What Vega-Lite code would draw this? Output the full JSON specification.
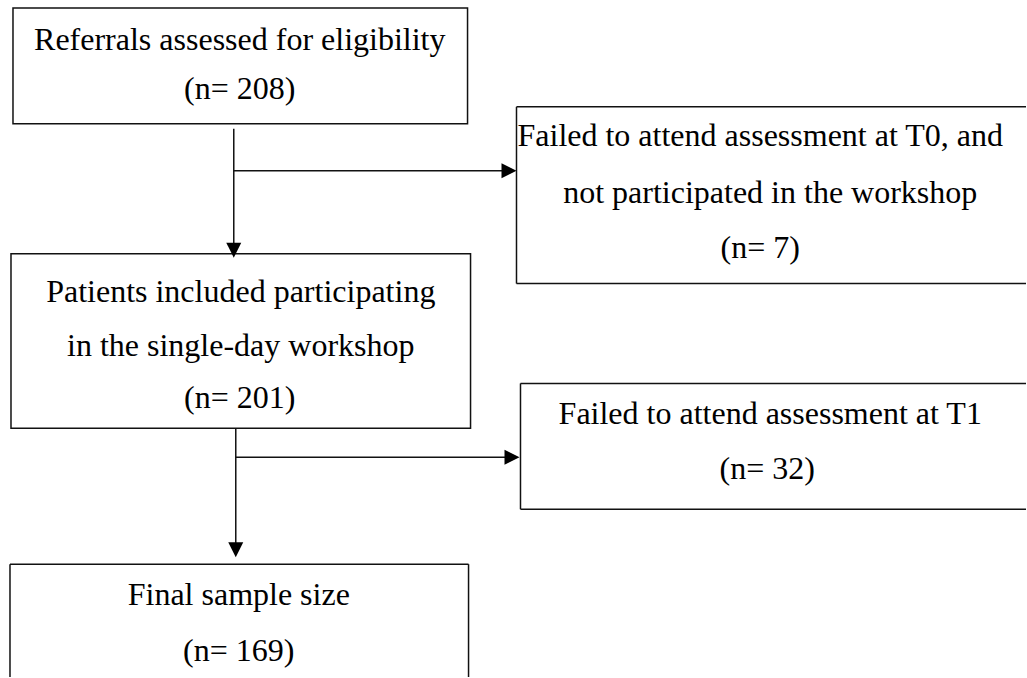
{
  "$schema": "https://vega.github.io/schema/vega-lite/v6.json",
  "width": 1027,
  "height": 678,
  "autosize": {"type": "fit", "contains": "padding"},
  "padding": 0,
  "background": "white",
  "config": {"view": {"stroke": null}},
  "datasets": {
    "boxes": [
      {"box": "Referrals", "x": 13, "x2": 468, "y": 8, "y2": 124},
      {"box": "Patients", "x": 11, "x2": 471, "y": 254, "y2": 429}
    ],
    "edges": [
      {"box": "Failed T0", "side": "top", "x": 517, "x2": 1027, "y": 107, "y2": 107},
      {"box": "Failed T0", "side": "left", "x": 517, "x2": 517, "y": 107, "y2": 284},
      {"box": "Failed T0", "side": "bottom", "x": 517, "x2": 1027, "y": 284, "y2": 284},
      {"box": "Failed T1", "side": "top", "x": 521, "x2": 1027, "y": 384, "y2": 384},
      {"box": "Failed T1", "side": "left", "x": 521, "x2": 521, "y": 384, "y2": 510},
      {"box": "Failed T1", "side": "bottom", "x": 521, "x2": 1027, "y": 510, "y2": 510},
      {"box": "Final", "side": "top", "x": 10, "x2": 469, "y": 565, "y2": 565},
      {"box": "Final", "side": "left", "x": 10, "x2": 10, "y": 565, "y2": 678},
      {"box": "Final", "side": "right", "x": 469, "x2": 469, "y": 565, "y2": 678}
    ],
    "lines": [
      {"x": 234, "x2": 234, "y": 129, "y2": 250},
      {"x": 234, "x2": 510, "y": 171, "y2": 171},
      {"x": 236, "x2": 236, "y": 429, "y2": 550},
      {"x": 236, "x2": 513, "y": 458, "y2": 458}
    ],
    "headsDown": [
      {"x": 234, "y": 250.5},
      {"x": 236, "y": 550.5}
    ],
    "headsRight": [
      {"x": 509.5, "y": 171},
      {"x": 512.5, "y": 458}
    ],
    "labels": [
      {"text": "Referrals assessed for eligibility", "x": 240, "y": 50},
      {"text": "(n= 208)", "x": 240, "y": 99},
      {"text": "Failed to attend assessment at T0, and", "x": 761, "y": 146},
      {"text": "not participated in the workshop", "x": 771, "y": 203},
      {"text": "(n= 7)", "x": 761, "y": 258},
      {"text": "Patients included participating", "x": 241, "y": 302},
      {"text": "in the single-day workshop", "x": 241, "y": 357},
      {"text": "(n= 201)", "x": 240, "y": 409},
      {"text": "Failed to attend assessment at T1", "x": 771, "y": 425},
      {"text": "(n= 32)", "x": 768, "y": 480},
      {"text": "Final sample size", "x": 239, "y": 606},
      {"text": "(n= 169)", "x": 239, "y": 662}
    ]
  },
  "layer": [
    {
      "data": {"name": "boxes"},
      "mark": {"type": "rect", "fill": "white", "stroke": "#111", "strokeWidth": 1.5},
      "encoding": {
        "x": {"field": "x", "type": "quantitative", "scale": {"domain": [0, 1027], "nice": false, "zero": false}, "axis": null},
        "x2": {"field": "x2"},
        "y": {"field": "y", "type": "quantitative", "scale": {"domain": [0, 678], "nice": false, "zero": false, "reverse": true}, "axis": null},
        "y2": {"field": "y2"}
      }
    },
    {
      "data": {"name": "edges"},
      "mark": {"type": "rule", "stroke": "#111", "strokeWidth": 1.5},
      "encoding": {
        "x": {"field": "x", "type": "quantitative"},
        "x2": {"field": "x2"},
        "y": {"field": "y", "type": "quantitative"},
        "y2": {"field": "y2"}
      }
    },
    {
      "data": {"name": "lines"},
      "mark": {"type": "rule", "stroke": "#111", "strokeWidth": 1.5},
      "encoding": {
        "x": {"field": "x", "type": "quantitative"},
        "x2": {"field": "x2"},
        "y": {"field": "y", "type": "quantitative"},
        "y2": {"field": "y2"}
      }
    },
    {
      "data": {"name": "headsDown"},
      "mark": {"type": "point", "shape": "M-1,-1L1,-1L0,1Z", "filled": true, "color": "#000", "opacity": 1, "size": 225, "strokeWidth": 0},
      "encoding": {
        "x": {"field": "x", "type": "quantitative"},
        "y": {"field": "y", "type": "quantitative"}
      }
    },
    {
      "data": {"name": "headsRight"},
      "mark": {"type": "point", "shape": "M-1,-1L1,0L-1,1Z", "filled": true, "color": "#000", "opacity": 1, "size": 225, "strokeWidth": 0},
      "encoding": {
        "x": {"field": "x", "type": "quantitative"},
        "y": {"field": "y", "type": "quantitative"}
      }
    },
    {
      "data": {"name": "labels"},
      "mark": {"type": "text", "font": "Liberation Serif", "fontSize": 32, "align": "center", "baseline": "alphabetic", "color": "#000"},
      "encoding": {
        "x": {"field": "x", "type": "quantitative"},
        "y": {"field": "y", "type": "quantitative"},
        "text": {"field": "text", "type": "nominal"}
      }
    }
  ]
}
